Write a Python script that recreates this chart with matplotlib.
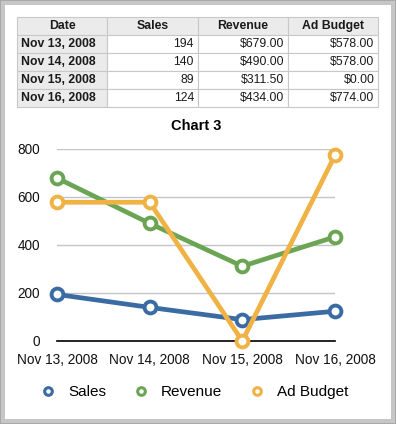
import matplotlib.pyplot as plt
from matplotlib.patches import Rectangle

plt.rcParams['font.family'] = ['Liberation Sans', 'DejaVu Sans']

dates = ['Nov 13, 2008', 'Nov 14, 2008', 'Nov 15, 2008', 'Nov 16, 2008']
sales = [194, 140, 89, 124]
revenue = [679.00, 490.00, 311.50, 434.00]
ad_budget = [578.00, 578.00, 0.00, 774.00]
columns = ['Date', 'Sales', 'Revenue', 'Ad Budget']
y_ticks = [0, 200, 400, 600, 800]

W, H = 396, 424
fig = plt.figure(figsize=(W / 100, H / 100), dpi=100)
fig.patch.set_facecolor('#c6c6c6')

# outer frame
fig.add_artist(Rectangle((0, 0), 1, 1, transform=fig.transFigure, facecolor='none',
                         edgecolor='#a4a4a4', linewidth=1.2, zorder=-2))
fig.add_artist(Rectangle((5 / W, 5 / H), 386 / W, 414 / H, transform=fig.transFigure,
                         facecolor='white', edgecolor='none', zorder=-1))

# data table
tax = fig.add_axes([17 / W, (H - 107) / H, 361 / W, 90 / H])
tax.axis('off')
rows = []
for d, s, r, a in zip(dates, sales, revenue, ad_budget):
    rows.append([d, f'{s}', f'${r:,.2f}', f'${a:,.2f}'])
tbl = tax.table(cellText=rows, colLabels=columns, bbox=[0, 0, 1, 1], cellLoc='right')
tbl.auto_set_font_size(False)
for (r, c), cell in tbl.get_celld().items():
    cell.set_edgecolor('#c8c8c8')
    cell.set_linewidth(0.8)
    cell.PAD = 0.04
    txt = cell.get_text()
    txt.set_fontsize(8.8)
    txt.set_color('#1a1a1a')
    if r == 0:
        txt.set_horizontalalignment('center')
        cell.set_facecolor('#ebebeb')
        txt.set_fontweight('bold')
    elif c == 0:
        txt.set_horizontalalignment('left')
        cell.set_facecolor('#ebebeb')
        txt.set_fontweight('bold')
    else:
        cell.set_facecolor('white')

# chart
ax = fig.add_axes([57 / W, (H - 341) / H, 278 / W, 192 / H])
ax.set_facecolor('white')
x = list(range(len(dates)))
series = [
    (sales, 'Sales', '#3a6ba3'),
    (revenue, 'Revenue', '#6ba553'),
    (ad_budget, 'Ad Budget', '#f0b245'),
]
for vals, label, color in series:
    ax.plot(x, vals, color=color, linewidth=3.4, marker='o', markersize=8.5,
            markerfacecolor='white', markeredgecolor=color, markeredgewidth=2.8,
            label=label, clip_on=False, zorder=3)

ax.set_xlim(0, 3)
ax.set_ylim(0, 800)
ax.set_yticks(y_ticks)
ax.set_xticks(x)
ax.set_xticklabels(dates)
for s in ['top', 'right', 'left']:
    ax.spines[s].set_visible(False)
ax.spines['bottom'].set_color('black')
ax.spines['bottom'].set_linewidth(1.2)
ax.grid(axis='y', color='#c4c4c4', linewidth=1.0)
ax.set_axisbelow(True)
ax.tick_params(length=0, labelsize=9.8, colors='#111111')
ax.tick_params(axis='y', pad=12)
ax.tick_params(axis='x', pad=9)
ax.set_title('Chart 3', fontsize=10.5, fontweight='bold', pad=14)

leg = ax.legend(loc='center', bbox_to_anchor=(0.5, -0.265), ncol=3, frameon=False,
                fontsize=11, handlelength=0.6, columnspacing=2.0, handletextpad=1.0)
for h in leg.legend_handles:
    h.set_linewidth(0)
    h.set_markersize(5.5)
    h.set_markeredgewidth(2.2)

fig.savefig('out.png', dpi=100, facecolor=fig.get_facecolor())
